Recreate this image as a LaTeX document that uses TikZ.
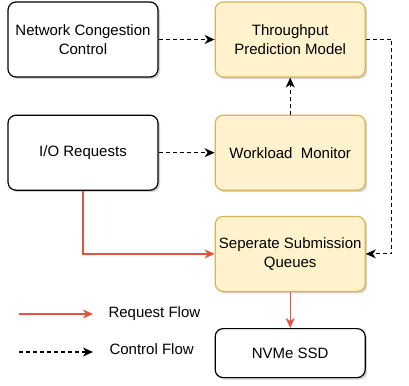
\documentclass[tikz,border=0pt]{standalone}
\usepackage{fontspec}
\setmainfont{Liberation Sans}
\usepackage{tikz}
\usetikzlibrary{positioning,arrows.meta,shadows}
\definecolor{boxyellow}{RGB}{255,242,204}
\definecolor{boxedge}{RGB}{214,182,86}
\definecolor{reqred}{RGB}{226,84,64}

\begin{document}
\begin{tikzpicture}[x=1pt,y=1pt,
  every node/.style={font=\fontsize{15}{19}\selectfont,align=center},
  box/.style={draw,rounded corners=8pt,line width=1.2pt,fill=white,minimum width=150pt,minimum height=75pt,
    drop shadow={shadow xshift=2pt,shadow yshift=-2pt,opacity=0.35}},
  ybox/.style={box,draw=boxedge,fill=boxyellow},
  ctrl/.style={-{Stealth[length=10pt,width=9pt,inset=3pt]},dash pattern=on 4pt off 3pt,line width=1.1pt},
  req/.style={-{Stealth[length=10pt,width=9pt,inset=3pt]},draw=reqred,line width=1.4pt}]
\useasboundingbox (0,0) rectangle (409,-385);
\node[box] (ncc) at (83,-39.5) {Network Congestion\\Control};
\node[ybox,right=56pt of ncc] (tpm) {Throughput\\Prediction Model};
\node[box,below=37pt of ncc] (io) {I/O Requests};
\node[ybox,right=56pt of io] (wm) {Workload\ \ Monitor};
\node[ybox,below=25pt of wm] (ssq) {Seperate Submission\\Queues};
\node[box,minimum height=49pt,below=36pt of ssq] (nvme) {NVMe SSD};
\draw[ctrl] (ncc) -- (tpm);
\draw[ctrl] (io) -- (wm);
\draw[ctrl] (wm) -- (tpm);
\draw[ctrl] (tpm.east) -- ++(26,0) |- (ssq.east);
\draw[req] (io.south) |- (ssq.west);
\draw[req] (ssq) -- (nvme);
% legend
\coordinate (ra) at (19,-314);
\coordinate (rb) at (93,-314);
\coordinate (ca) at (19,-352);
\coordinate (cb) at (93,-352);
\draw[req] (ra) -- (rb);
\draw[ctrl] (ca) -- (cb);
\node[anchor=west] (reql) at (105,-314) {Request Flow};
\node[anchor=west] (ctrll) at (106,-349) {Control Flow};
\end{tikzpicture}
\end{document}
